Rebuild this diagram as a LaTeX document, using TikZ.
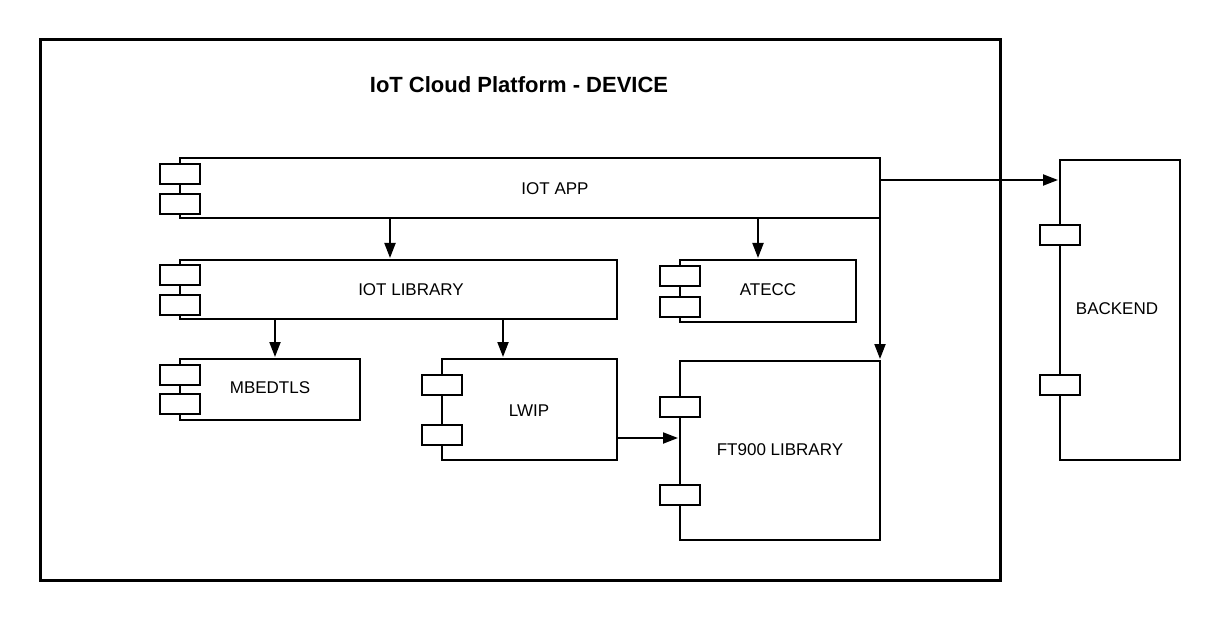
\documentclass[tikz,border=0pt]{standalone}
\usepackage{fontspec}
\setmainfont{Liberation Sans}
\usetikzlibrary{arrows.meta}
\begin{document}
\begin{tikzpicture}[x=1pt,y=-1pt]
\tikzset{
 body/.style={draw, line width=2pt, fill=white, inner sep=0pt, outer sep=0pt},
 tab/.style={draw, line width=2pt, fill=white, inner sep=0pt, outer sep=0pt, minimum width=40pt, minimum height=20pt},
 lbl/.style={font=\fontsize{17}{20}\selectfont, inner sep=0pt, anchor=base},
 arr/.style={line width=2pt, shorten >=2pt, -{Triangle[length=15pt,width=11pt]}},
}
\useasboundingbox[fill=white] (0,0) rectangle (1220,620);
% frame
\node[draw, line width=3pt, inner sep=0pt, minimum width=960pt, minimum height=540pt] (frame) at (520,310) {};
\node[font=\fontsize{22}{26}\selectfont\bfseries, inner sep=0pt, anchor=base] (title) at (519,93) {IoT Cloud Platform - DEVICE};
% bodies
\node[body, minimum width=700pt, minimum height=60pt] (app) at (530,188) {};
\node[body, minimum width=437pt, minimum height=59pt] (lib) at (398.5,289.5) {};
\node[body, minimum width=176pt, minimum height=62pt] (atecc) at (768,291) {};
\node[body, minimum width=180pt, minimum height=61pt] (mbed) at (270,389.5) {};
\node[body, minimum width=175pt, minimum height=101pt] (lwip) at (529.5,409.5) {};
\node[body, minimum width=200pt, minimum height=179pt] (ft) at (780,450.5) {};
\node[body, minimum width=120pt, minimum height=300pt] (backend) at (1120,310) {};
% tabs
\node[tab] (appt1) at (180,174) {};
\node[tab] (appt2) at (180,204) {};
\node[tab] (libt1) at (180,275) {};
\node[tab] (libt2) at (180,305) {};
\node[tab] (atecct1) at (680,276) {};
\node[tab] (atecct2) at (680,307) {};
\node[tab] (mbedt1) at (180,375) {};
\node[tab] (mbedt2) at (180,404) {};
\node[tab] (lwipt1) at (442,385) {};
\node[tab] (lwipt2) at (442,435) {};
\node[tab] (ftt1) at (680,407) {};
\node[tab] (ftt2) at (680,495) {};
\node[tab] (backendt1) at (1060,235) {};
\node[tab] (backendt2) at (1060,385) {};
% labels
\node[lbl] (applbl) at (555,195) {IOT APP};
\node[lbl] (liblbl) at (411,295) {IOT LIBRARY};
\node[lbl] (atecclbl) at (768,295) {ATECC};
\node[lbl] (mbedlbl) at (270,393) {MBEDTLS};
\node[lbl] (lwiplbl) at (529,416) {LWIP};
\node[lbl] (ftlbl) at (780,455) {FT900 LIBRARY};
\node[lbl] (backendlbl) at (1117,314) {BACKEND};
% connectors
\coordinate (xa) at (390,0);
\coordinate (xb) at (758,0);
\coordinate (xc) at (275,0);
\coordinate (xd) at (503,0);
\coordinate (ya) at (0,180);
\coordinate (yb) at (0,438);
\draw[arr] (app.south -| xa) -- (lib.north -| xa);
\draw[arr] (app.south -| xb) -- (atecc.north -| xb);
\draw[arr] (app.south east) -- (ft.north east);
\draw[arr] (lib.south -| xc) -- (mbed.north -| xc);
\draw[arr] (lib.south -| xd) -- (lwip.north -| xd);
\draw[arr] (app.east |- ya) -- (backend.west |- ya);
\draw[arr] (lwip.east |- yb) -- (ft.west |- yb);
\end{tikzpicture}
\end{document}
